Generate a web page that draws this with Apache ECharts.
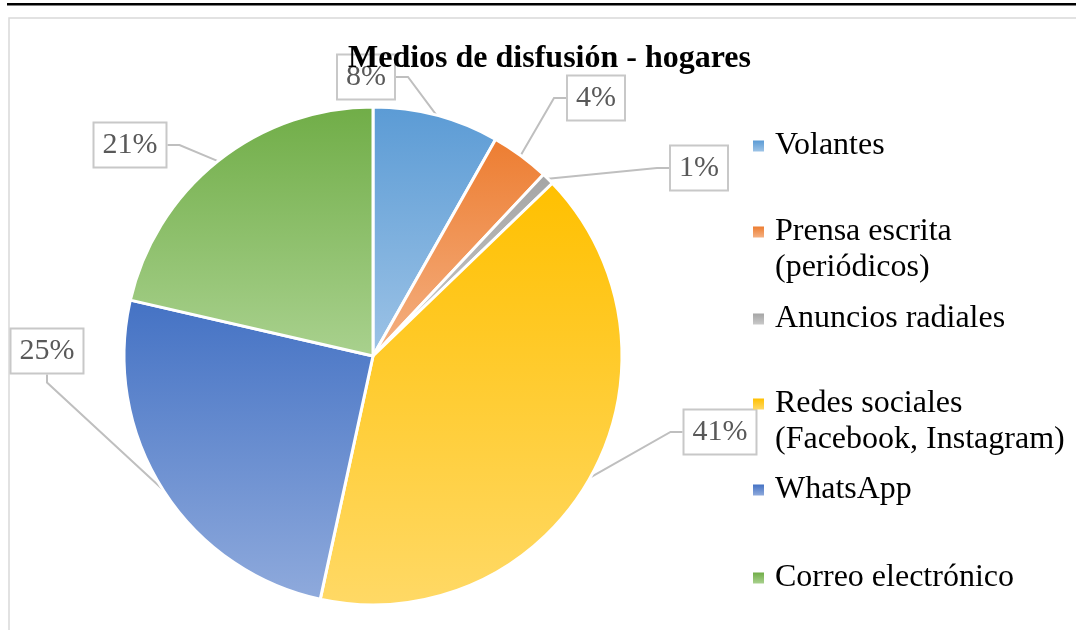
<!DOCTYPE html>
<html>
<head>
<meta charset="utf-8">
<script src="https://cdn.jsdelivr.net/npm/echarts@6/dist/echarts.min.js"></script>
<style>
  html, body { margin: 0; padding: 0; background: #fff; }
  #chart { width: 1076px; height: 630px; }
</style>
</head>
<body>
<div id="chart"></div>
<script>
// data (shares, in percent)
var categories = ['Volantes', 'Prensa escrita\n(periódicos)', 'Anuncios radiales',
  'Redes sociales\n(Facebook, Instagram)', 'WhatsApp', 'Correo electrónico']
var shares = [8.2, 3.8, 0.8, 40.6, 25.2, 21.4]

// top / bottom colours of each slice gradient
var topColors = ['#5B9BD5', '#ED7D31', '#A5A5A5', '#FFC000', '#4472C4', '#70AD47']
var bottomColors = ['#9DC3E6', '#F4B183', '#C9C9C9', '#FFD966', '#8FAADC', '#A9D18E']

// where the boxed percent labels sit (centre, px)
var labelSpots = [[366, 77], [596, 98], [699, 168], [720, 432], [47, 351], [130, 145]]
// first-line y of each legend entry
var legendRows = [143, 229, 316, 401, 487, 575]

var pieCenter = [373, 356]
var serif = '"Times New Roman", "Liberation Serif", serif'

var chart = echarts.init(document.getElementById('chart'))

var pieData = categories.map(function(name, i) {
  return {
    name: name,
    value: shares[i],
    itemStyle: {
      color: new echarts.graphic.LinearGradient(0, 0, 0, 1, [
        { offset: 0, color: topColors[i] },
        { offset: 1, color: bottomColors[i] }
      ])
    }
  }
})

// one legend per entry so the rows can keep the uneven spacing of the original
var legends = categories.map(function(name, i) {
  var twoLines = name.indexOf('\n') > -1
  return {
    orient: 'vertical',
    left: 753,
    top: legendRows[i] - (twoLines ? 54 : 18) + 3,
    padding: 0,
    icon: 'rect',
    itemWidth: 11,
    itemHeight: 11,
    itemStyle: { borderWidth: 0 },
    selectedMode: false,
    data: [name],
    // empty first line keeps the marker level with the first text line
    formatter: twoLines ? '\n{name}' : '{name}',
    textStyle: {
      fontFamily: serif,
      fontSize: 32,
      lineHeight: 36,
      color: '#000',
      padding: [0, 0, 0, 6]
    }
  }
})

// leader line: slice outer mid point -> short elbow -> side of the box.
// left/right sides first (like Excel), top/bottom when the line would cut the pie
function leader(params) {
  var c = labelSpots[params.dataIndex]
  var w = params.labelRect.width, h = params.labelRect.height
  var from = params.labelLinePoints[0]
  var rx = from[0] - pieCenter[0], ry = from[1] - pieCenter[1]
  var rl = Math.sqrt(rx * rx + ry * ry)
  var sides = []
  if (from[0] > c[0] + w / 2) sides.push({ end: [c[0] + w / 2, c[1]], elbow: [c[0] + w / 2 + 12, c[1]], h: true })
  if (from[0] < c[0] - w / 2) sides.push({ end: [c[0] - w / 2, c[1]], elbow: [c[0] - w / 2 - 12, c[1]], h: true })
  if (from[1] > c[1] + h / 2) sides.push({ end: [c[0], c[1] + h / 2], elbow: [c[0], c[1] + h / 2 + 8], h: false })
  if (from[1] < c[1] - h / 2) sides.push({ end: [c[0], c[1] - h / 2], elbow: [c[0], c[1] - h / 2 - 8], h: false })
  var best = null, bestScore = -Infinity
  sides.forEach(function(s) {
    var dx = s.elbow[0] - from[0], dy = s.elbow[1] - from[1]
    var d = Math.sqrt(dx * dx + dy * dy)
    var out = (dx * rx + dy * ry) / (d * rl)
    var score = out > 0.1 ? (s.h ? 2 : 1) + out : out
    if (score > bestScore) { bestScore = score; best = s }
  })
  return [from, best.elbow, best.end]
}

chart.setOption({
  animation: false,
  title: {
    text: 'Medios de disfusión - hogares',
    left: 343,
    top: 38,
    textStyle: {
      fontFamily: serif,
      fontSize: 32,
      fontWeight: 'bold',
      color: '#000'
    }
  },
  legend: legends,
  graphic: [
    { type: 'rect', shape: { x: 7, y: 3, width: 1069, height: 2.5 }, style: { fill: '#000' } },
    { type: 'rect', shape: { x: 9, y: 18, width: 1100, height: 700 },
      style: { fill: 'none', stroke: '#d9d9d9', lineWidth: 1.5 } }
  ],
  series: [{
    type: 'pie',
    center: pieCenter,
    radius: 249,
    startAngle: 90,
    clockwise: true,
    percentPrecision: 0,
    itemStyle: {
      borderColor: '#fff',
      borderWidth: 3
    },
    label: {
      show: true,
      position: 'outside',
      formatter: '{d}%',
      fontFamily: serif,
      fontSize: 30,
      color: '#595959',
      padding: [9, 9, 6, 9],
      borderColor: '#c8c8c8',
      borderWidth: 2
    },
    labelLine: {
      show: true,
      length: 20,
      length2: 12,
      lineStyle: { color: '#bfbfbf', width: 2 }
    },
    labelLayout: function(params) {
      var p = labelSpots[params.dataIndex]
      return {
        x: p[0], y: p[1], align: 'center', verticalAlign: 'middle',
        labelLinePoints: leader(params)
      }
    },
    data: pieData
  }]
})
</script>
</body>
</html>
